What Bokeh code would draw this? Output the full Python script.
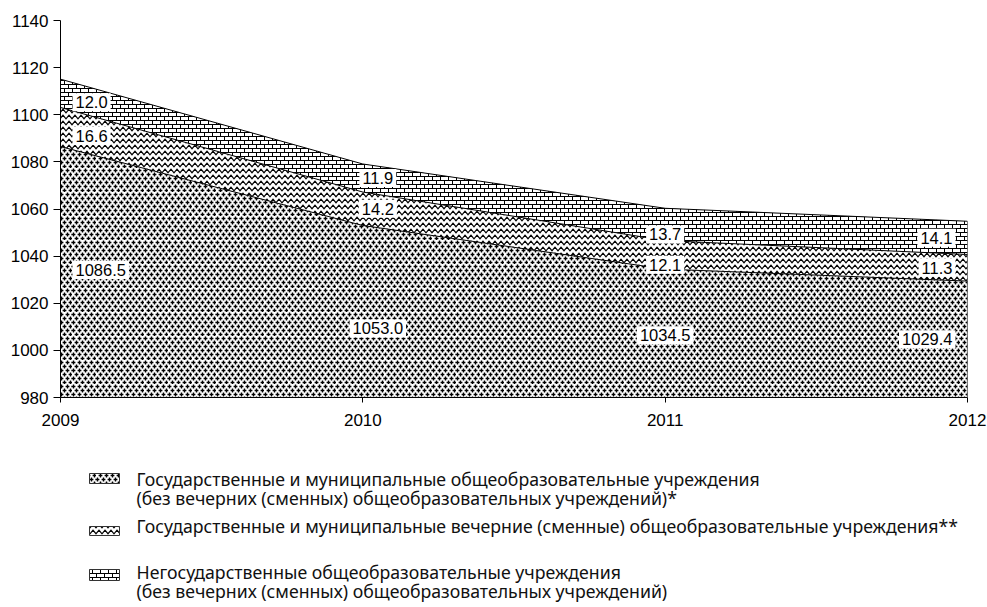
import numpy as np
from bokeh.plotting import figure
from bokeh.models import Range1d, FixedTicker, Label, CanvasTexture, ColumnDataSource
from bokeh.layouts import column
from bokeh.core.properties import value
from bokeh.embed import file_html
from bokeh.resources import INLINE

# ---------------- data ----------------
years = [2009, 2010, 2011, 2012]
state_general = [1086.5, 1053.0, 1034.5, 1029.4]   # state & municipal (no evening schools)
state_evening = [16.6, 14.2, 12.1, 11.3]           # state & municipal evening schools
non_state = [12.0, 11.9, 13.7, 14.1]               # non-state schools
y_ticks = [980, 1000, 1020, 1040, 1060, 1080, 1100, 1120, 1140]
legend_lines = [
    ["Государственные и муниципальные общеобразовательные учреждения",
     "(без вечерних (сменных) общеобразовательных учреждений)*"],
    ["Государственные и муниципальные вечерние (сменные) общеобразовательные учреждения**"],
    ["Негосударственные общеобразовательные учреждения",
     "(без вечерних (сменных) общеобразовательных учреждений)"],
]

# ---------------- textures ----------------
PLUS_JS = """
const cv = ctx.canvas; cv.width = 24; cv.height = 24;
ctx.strokeStyle = "#000";
ctx.lineWidth = 1.4;
for (let r = 0; r < 6; r++) {
  const cy = 2.5 + 4 * r;
  const off = (r % 2) * 3;
  for (let c = 0; c < 5; c++) {
    const cx = 1.5 + off + 6 * c;
    ctx.beginPath();
    ctx.moveTo(cx - 1.9, cy); ctx.lineTo(cx + 1.9, cy);
    ctx.moveTo(cx, cy - 1.9); ctx.lineTo(cx, cy + 1.9);
    ctx.stroke();
    if (cx - 1.9 < 0) {
      ctx.beginPath();
      ctx.moveTo(cx + 24 - 1.9, cy); ctx.lineTo(cx + 24 + 1.9, cy);
      ctx.stroke();
    }
  }
  if (r === 0) {
    for (let c = 0; c < 4; c++) {
      const cx = 1.5 + 6 * c;
      ctx.beginPath();
      ctx.moveTo(cx, cy + 24 - 1.9); ctx.lineTo(cx, cy + 24 + 1.9);
      ctx.stroke();
    }
  }
}
"""
WAVE_JS = """
const cv = ctx.canvas; cv.width = 12; cv.height = 12;
ctx.strokeStyle = "#000";
ctx.lineWidth = 1.2;
for (let r = 0; r < 2; r++) {
  const y0 = 6 * r;
  ctx.beginPath();
  ctx.moveTo(-3, y0 + 1.2);
  for (let k = 0; k < 3; k++) {
    ctx.lineTo(6 * k, y0 + 4.8);
    ctx.lineTo(6 * k + 3, y0 + 1.2);
  }
  ctx.stroke();
}
"""
BRICK_JS = """
const cv = ctx.canvas; cv.width = 16; cv.height = 16;
ctx.fillStyle = "#000";
for (let r = 0; r < 4; r++) {
  const y = 4 * r;
  ctx.fillRect(0, y, 16, 1);
  const off = (r % 2) * 4;
  for (let c = 0; c < 2; c++) {
    ctx.fillRect(off + 8 * c, y, 1, 4);
  }
}
"""
styles = [
    dict(hatch_pattern=value("plus"), hatch_extra={"plus": CanvasTexture(code=PLUS_JS)}, hatch_scale=24),
    dict(hatch_pattern=value("wave"), hatch_extra={"wave": CanvasTexture(code=WAVE_JS)}, hatch_scale=12),
    dict(hatch_pattern=value("brick"), hatch_extra={"brick": CanvasTexture(code=BRICK_JS)}, hatch_scale=16),
]

# ---------------- chart ----------------
base = np.array(state_general)
mid = base + np.array(state_evening)
top = mid + np.array(non_state)
floor = y_ticks[0]

src = ColumnDataSource(dict(x=years, y0=[floor] * len(years), y1=base, y2=mid, y3=top))

BL, BR = 60, 20
p = figure(width=987, height=445, x_range=Range1d(years[0], years[-1]),
           y_range=Range1d(y_ticks[0], y_ticks[-1]),
           output_backend="svg", toolbar_location=None,
           min_border_left=BL, min_border_right=BR, min_border_top=20, min_border_bottom=48)
p.outline_line_color = None
p.grid.visible = False
p.background_fill_color = "white"

for (lo, hi), st in zip([("y0", "y1"), ("y1", "y2"), ("y2", "y3")], styles):
    p.varea(x="x", y1=lo, y2=hi, source=src, fill_color="white", hatch_color="black",
            hatch_alpha=1.0, **st)
for col in ["y1", "y2", "y3"]:
    p.line(x="x", y=col, source=src, line_color="black", line_width=1)
p.segment(x0=[years[-1]], y0=[floor], x1=[years[-1]], y1=[top[-1]], line_color="black", line_width=1)

# value labels
x_off = [12, 15, 0, -12]
align = ["left", "center", "center", "right"]
dy = {  # pixel nudges per (year index, band)
    (0, 0): 2, (0, 1): -9, (0, 2): -9,
    (1, 0): -17, (1, 1): 0, (1, 2): 0,
    (2, 0): -2, (2, 1): -10, (2, 2): -10,
    (3, 0): 0, (3, 1): 0, (3, 2): 0,
}
bands = [(np.full(4, floor), base, state_general),
         (base, mid, state_evening),
         (mid, top, non_state)]
for i, yr in enumerate(years):
    for b, (lo, hi, vals) in enumerate(bands):
        lab = Label(x=yr, y=(lo[i] + hi[i]) / 2, text=f"{vals[i]:.1f}",
                    x_offset=x_off[i], y_offset=dy[(i, b)],
                    text_align=align[i], text_baseline="middle",
                    text_font="Liberation Sans", text_font_size="16.5px", text_color="black",
                    background_fill_color="white", background_fill_alpha=1.0,
                    padding=3)
        p.add_layout(lab)

for ax in (p.xaxis, p.yaxis):
    ax.axis_line_color = "black"
    ax.major_tick_line_color = "black"
    ax.minor_tick_line_color = None
    ax.major_tick_in = 0
    ax.major_label_text_font = "Liberation Sans"
    ax.major_label_text_font_size = "17px"
    ax.major_label_text_color = "black"
p.yaxis.ticker = FixedTicker(ticks=y_ticks)
p.yaxis.major_tick_out = 7
p.yaxis.major_label_standoff = 5
p.xaxis.ticker = FixedTicker(ticks=years)
p.xaxis.major_tick_out = 5
p.xaxis.major_label_standoff = 11

# ---------------- legend ----------------
LG_TOP, LG_H = 445, 160
lg = figure(width=987, height=LG_H, x_range=Range1d(BL, 987 - BR),
            y_range=Range1d(LG_TOP + LG_H, LG_TOP),
            output_backend="svg", toolbar_location=None,
            min_border_left=BL, min_border_right=BR, min_border_top=0, min_border_bottom=0,
            x_axis_location=None, y_axis_location=None)
lg.grid.visible = False
lg.outline_line_color = None

sw_top = [473, 526, 569]
sw_bot = [483, 535, 580]
text_y = [[478, 497], [525], [571, 590]]
for k, st in enumerate(styles):
    lg.quad(left=[89], right=[119], top=[sw_top[k]], bottom=[sw_bot[k]], fill_color="white",
            hatch_color="black", hatch_alpha=1.0, line_color="#333", line_width=1, **st)
    lg.text(x=[136] * len(legend_lines[k]), y=text_y[k], text=legend_lines[k],
            text_baseline="alphabetic", text_align="left",
            text_font=value("Noto Sans"), text_font_size="17.7px", text_color="#111")

layout = column(p, lg)
open("out.html", "w").write(file_html(layout, INLINE))
